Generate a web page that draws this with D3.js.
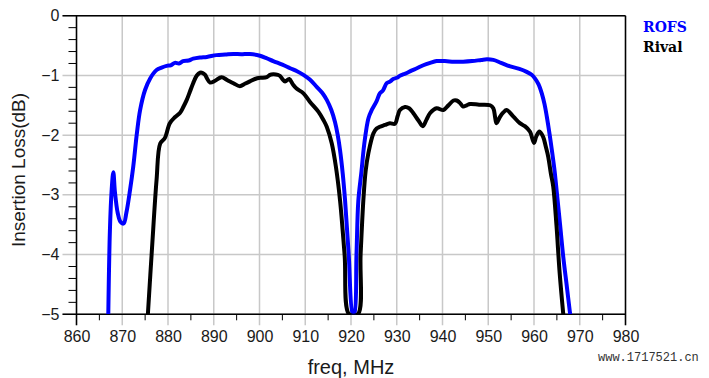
<!DOCTYPE html>
<html>
<head>
<meta charset="utf-8">
<script src="https://cdn.jsdelivr.net/npm/d3@7"></script>
<style>
  body { margin: 0; background: #fff; }
  svg { display: block; }
</style>
</head>
<body>
<svg id="chart" width="709" height="378"></svg>
<script>
  // ---- data ----
  const xTicks = [860, 870, 880, 890, 900, 910, 920, 930, 940, 950, 960, 970, 980];
  const yTicks = [0, -1, -2, -3, -4, -5];
  const seriesNames = ["ROFS", "Rival"];

  const rofsFreq = [866.95, 867.3, 867.7, 868.05, 868.4, 869.0, 869.6, 870.3, 870.9, 871.7, 872.4, 873.2, 873.9, 875.0, 876.1, 877.5, 878.6, 879.7, 880.6, 881.5, 882.4, 883.3, 884.5, 885.5, 887, 888.5, 890.6, 892.5, 894.3, 896, 897.9, 900.1, 901.5, 903, 905, 906.7, 908.2, 909.6, 911, 912.5, 913.7, 914.7, 915.7, 916.5, 917.1, 917.6, 918.2, 918.7, 919.5, 920.4,
    920.7, 921.2, 921.6, 922.3, 922.9, 923.8, 924.6, 925.6, 926.3, 927.0, 927.8, 928.6, 929.2, 930, 930.8, 931.5, 932.2, 933.2, 934.4, 935.8, 937.3, 938.7, 940.5, 942.5, 944.5, 946.5, 948.5, 949.7, 951.1, 952.8, 954.8, 956.8, 958.4, 959.5, 960.2, 961, 961.7, 962.3, 962.8, 963.4, 963.9, 964.5, 965, 965.7, 966.4, 967.2, 967.9];
  const rofsLoss = [-5.0, -3.6, -2.9, -2.62, -2.95, -3.3, -3.45, -3.48, -3.3, -2.92, -2.53, -1.97, -1.58, -1.24, -1.05, -0.91, -0.87, -0.84, -0.83, -0.79, -0.80, -0.76, -0.75, -0.72, -0.70, -0.69, -0.66, -0.65, -0.64, -0.645, -0.64, -0.67, -0.71, -0.76, -0.82, -0.88, -0.93, -0.99, -1.07, -1.19, -1.29, -1.41, -1.58, -1.78, -2.0, -2.25, -2.65, -3.09, -4.0, -5.0,
    -5.0, -4.0, -3.1, -2.6, -2.15, -1.72, -1.57, -1.43, -1.30, -1.25, -1.13, -1.10, -1.06, -1.04, -1.0, -0.98, -0.96, -0.92, -0.88, -0.83, -0.79, -0.76, -0.76, -0.77, -0.77, -0.76, -0.74, -0.73, -0.74, -0.79, -0.85, -0.89, -0.94, -0.99, -1.05, -1.15, -1.30, -1.48, -1.69, -1.98, -2.25, -2.6, -2.97, -3.5, -4.04, -4.55, -5.0];

  const rivalFreq = [875.6, 876.5, 877.5, 878.3, 879.3, 880.4, 881.5, 882.6, 883.4, 884.1, 884.8, 885.5, 886.3, 887, 887.6, 888.1, 888.6, 889.2, 890.3, 891.7, 893, 894.3, 895.7, 896.8, 897.9, 899, 900.1, 901.6, 902.3, 903, 904, 904.5, 905.1, 905.6, 906.5, 907.3, 908.1, 909.6, 911, 912.9, 914.0, 914.7, 915.8, 916.7, 917.6, 918.6, 919.6,
    921.5, 922.1, 922.7, 923.2, 923.8, 924.9, 925.6, 926.3, 927.4, 928.5, 929.6, 930.2, 930.7, 931.8, 932.7, 933.6, 934.7, 935.7, 936.5, 937.3, 938.7, 940.2, 941.3, 942.4, 943.1, 943.8, 944.5, 945.3, 946, 948, 950.4, 951.1, 951.5, 951.8, 952.6, 953.3, 954, 955.5, 956.9, 958, 959.1, 960, 960.5, 961.2, 962, 962.6, 963.1, 963.7, 964.2, 964.9, 965.6, 966.4];
  const rivalLoss = [-5.0, -3.9, -2.75, -2.14, -2.05, -1.80, -1.70, -1.63, -1.52, -1.41, -1.27, -1.13, -1.0, -0.955, -0.96, -0.99, -1.06, -1.12, -1.09, -1.03, -1.08, -1.13, -1.18, -1.14, -1.10, -1.06, -1.04, -1.03, -0.99, -0.98, -0.99, -1.01, -1.07, -1.10, -1.06, -1.15, -1.22, -1.30, -1.44, -1.61, -1.75, -1.86, -2.14, -2.53, -3.09, -4.0, -5.0,
    -5.0, -4.0, -3.09, -2.6, -2.30, -1.97, -1.89, -1.86, -1.83, -1.80, -1.81, -1.68, -1.58, -1.53, -1.55, -1.63, -1.75, -1.85, -1.74, -1.63, -1.55, -1.58, -1.50, -1.42, -1.42, -1.46, -1.52, -1.50, -1.48, -1.49, -1.50, -1.55, -1.70, -1.80, -1.69, -1.62, -1.58, -1.69, -1.80, -1.85, -1.94, -2.13, -2.02, -1.94, -2.03, -2.2, -2.36, -2.65, -2.86, -3.5, -4.3, -5.0];

  const colors = ["#0000ff", "#000000"];

  // ---- layout ----
  const svg = d3.select("#chart");
  const pL = 76.5, pR = 625.5, pT = 15.7, pB = 314.3;
  const font = "'Liberation Sans', Arial, sans-serif";

  const x = d3.scaleLinear().domain([860, 980]).range([pL, pR]);
  const y = d3.scaleLinear().domain([-5, 0]).range([pB, pT]);

  const grid = svg.append("g");
  // vertical grid, running a bit below the axis as the major tick
  grid.selectAll(".vg").data(xTicks).enter().append("line")
    .attr("x1", d => x(d)).attr("x2", d => x(d))
    .attr("y1", pT).attr("y2", pB + 11)
    .attr("stroke", "#c8c8c8").attr("stroke-width", 1.5);
  grid.selectAll(".hg").data(yTicks).enter().append("line")
    .attr("x1", pL - 14).attr("x2", pR)
    .attr("y1", d => y(d)).attr("y2", d => y(d))
    .attr("stroke", "#c8c8c8").attr("stroke-width", 1.5);

  // minor ticks
  const xMinor = d3.range(865, 980, 10);
  grid.selectAll(".xm").data(xMinor).enter().append("line")
    .attr("x1", d => x(d)).attr("x2", d => x(d))
    .attr("y1", pB).attr("y2", pB + 6)
    .attr("stroke", "#000").attr("stroke-width", 1);
  const yMinor = d3.range(-4.8, 0, 0.2).filter(v => Math.abs(v - Math.round(v)) > 0.05);
  grid.selectAll(".ym").data(yMinor).enter().append("line")
    .attr("x1", pL - 8).attr("x2", pL)
    .attr("y1", d => y(d)).attr("y2", d => y(d))
    .attr("stroke", "#000").attr("stroke-width", 1);

  // frame
  const frame = svg.append("g").attr("stroke", "#000").attr("stroke-width", 1.5);
  frame.append("line").attr("x1", pL - 14).attr("x2", pR).attr("y1", pT).attr("y2", pT);
  frame.append("line").attr("x1", pL - 14).attr("x2", pR).attr("y1", pB).attr("y2", pB);
  frame.append("line").attr("x1", pL).attr("x2", pL).attr("y1", pT).attr("y2", pB + 11);
  frame.append("line").attr("x1", pR).attr("x2", pR).attr("y1", pT).attr("y2", pB + 11);

  // tick labels
  const xAxis = svg.append("g").attr("transform", `translate(0,${pB})`)
    .call(d3.axisBottom(x).tickValues(xTicks).tickSize(0).tickPadding(16).tickFormat(d3.format("d")));
  xAxis.select(".domain").remove();
  xAxis.selectAll("text").attr("font-family", font).attr("font-size", 16).attr("fill", "#1a1a1a");

  const yAxis = svg.append("g").attr("transform", `translate(${pL},0)`)
    .call(d3.axisLeft(y).tickValues(yTicks).tickSize(0).tickPadding(17).tickFormat(d3.format("d")));
  yAxis.select(".domain").remove();
  yAxis.selectAll("text").attr("font-family", font).attr("font-size", 16).attr("fill", "#1a1a1a");

  // axis titles
  svg.append("text").attr("x", (pL + pR) / 2).attr("y", 374)
    .attr("text-anchor", "middle").attr("font-family", font).attr("font-size", 20)
    .attr("fill", "#1a1a1a").text("freq, MHz");
  svg.append("text").attr("transform", "translate(25,170) rotate(-90)")
    .attr("text-anchor", "middle").attr("font-family", font).attr("font-size", 19)
    .attr("fill", "#1a1a1a").text("Insertion Loss(dB)");

  // curves
  svg.append("clipPath").attr("id", "plotclip").append("rect")
    .attr("x", pL).attr("y", pT).attr("width", pR - pL).attr("height", pB - pT);

  const line = d3.line()
    .x(d => x(d[0])).y(d => y(d[1]))
    .curve(d3.curveCatmullRom.alpha(0.5));

  const series = [
    d3.zip(rofsFreq, rofsLoss),
    d3.zip(rivalFreq, rivalLoss)
  ];
  svg.append("g").attr("clip-path", "url(#plotclip)")
    .selectAll("path").data(series).enter().append("path")
    .attr("d", line)
    .attr("fill", "none")
    .attr("stroke", (d, i) => colors[i])
    .attr("stroke-width", 4)
    .attr("stroke-linejoin", "round");

  // legend
  svg.selectAll(".leg").data(seriesNames).enter().append("text")
    .attr("x", 643).attr("y", (d, i) => 31.5 + i * 20)
    .attr("font-family", "'DejaVu Serif', serif").attr("font-weight", "bold").attr("font-size", 14)
    .attr("fill", (d, i) => colors[i]).text(d => d);

  // watermark
  svg.append("text").attr("x", 598).attr("y", 361)
    .attr("font-family", "'Liberation Mono', monospace").attr("font-size", 12)
    .attr("fill", "#333").text("www.1717521.cn");
</script>
</body>
</html>
